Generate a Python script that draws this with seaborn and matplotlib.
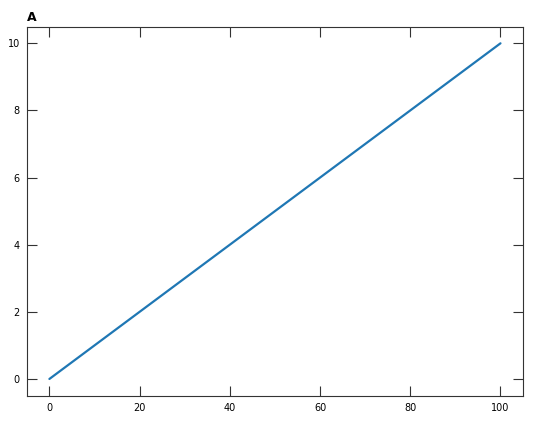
import matplotlib
matplotlib.use("Agg")
import pandas as pd
import seaborn as sns
import matplotlib.pyplot as plt

# --- Data ---
x_vals = [0, 100]
y_vals = [0, 10]

df = pd.DataFrame({"x": x_vals, "y": y_vals})

sns.set_theme(style="ticks")
plt.rcParams['font.family'] = ['DejaVu Sans']

fig, ax = plt.subplots(figsize=(5.37, 4.21), dpi=100)
sns.lineplot(ax=ax, data=df, x="x", y="y", color="#1f77b4", linewidth=1.6)

ax.set_xlabel("")
ax.set_ylabel("")
ax.set_xticks([0, 20, 40, 60, 80, 100])
ax.set_yticks([0, 2, 4, 6, 8, 10])
ax.tick_params(direction="in", length=7, width=0.8, colors="#333333",
               labelcolor="black", labelsize=7, top=True, right=True, pad=5)
for s in ax.spines.values():
    s.set_color("#333333")
    s.set_linewidth(0.8)
ax.set_title("A", loc="left", fontweight="bold", fontsize=9, color="black", pad=4)

fig.subplots_adjust(left=0.05, right=0.974, top=0.937, bottom=0.06)
fig.savefig("out.png", dpi=100)
